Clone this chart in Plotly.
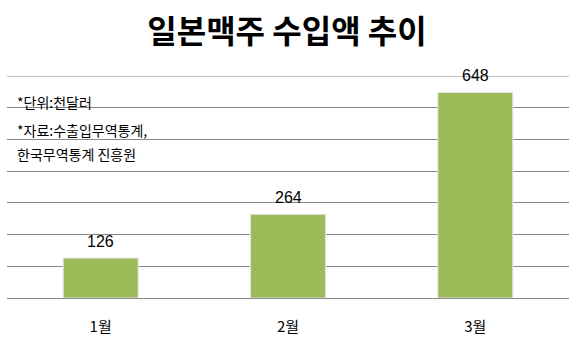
import plotly.graph_objects as go

months = ["1월", "2월", "3월"]
values = [126, 264, 648]
title_text = "일본맥주 수입액 추이"
note_lines = ["*단위:천달러", "*자료:수출입무역통계,", "한국무역통계 진흥원"]
y_max = 700

KR = "Noto Sans CJK KR"

fig = go.Figure()
fig.add_trace(go.Bar(
    x=months, y=values, width=0.4,
    marker=dict(color="#9BBB59", line=dict(color="#e6e6e6", width=1)),
    hoverinfo="skip",
))

for m, v in zip(months, values):
    fig.add_annotation(x=m, y=v, text=str(v), showarrow=False, yanchor="middle",
                       yshift=17, font=dict(family="Liberation Sans", size=16, color="#000"))

note_y = [102, 130, 155]
for t, py in zip(note_lines, note_y):
    fig.add_annotation(xref="paper", yref="paper", x=(15 - 7) / 562, y=(300 - py) / 224,
                       xanchor="left", yanchor="middle", text=t, showarrow=False,
                       font=dict(family=KR, size=14, color="#000"))

# top gridline (plotly omits the grid line at the range edge)
fig.add_shape(type="line", xref="paper", x0=0, x1=1, yref="y", y0=y_max, y1=y_max,
              line=dict(color="#888888", width=1), layer="below")

fig.update_layout(
    width=574, height=341,
    margin=dict(l=7, r=5, t=76, b=41),
    paper_bgcolor="white", plot_bgcolor="white",
    showlegend=False,
    title=dict(text="<b>" + title_text + "</b>", x=0.5, xanchor="center",
               y=1 - 32 / 341, yanchor="middle",
               font=dict(family=KR, size=32, color="#000")),
    xaxis=dict(showgrid=False, showline=False, ticks="", ticklabelstandoff=18,
               tickfont=dict(family=KR, size=15, color="#000")),
    yaxis=dict(range=[0, y_max], dtick=100,
               showgrid=True, gridcolor="#888888", gridwidth=1,
               zeroline=True, zerolinecolor="#888888", zerolinewidth=1,
               showticklabels=False, ticks=""),
)

fig.write_html("out.html")
